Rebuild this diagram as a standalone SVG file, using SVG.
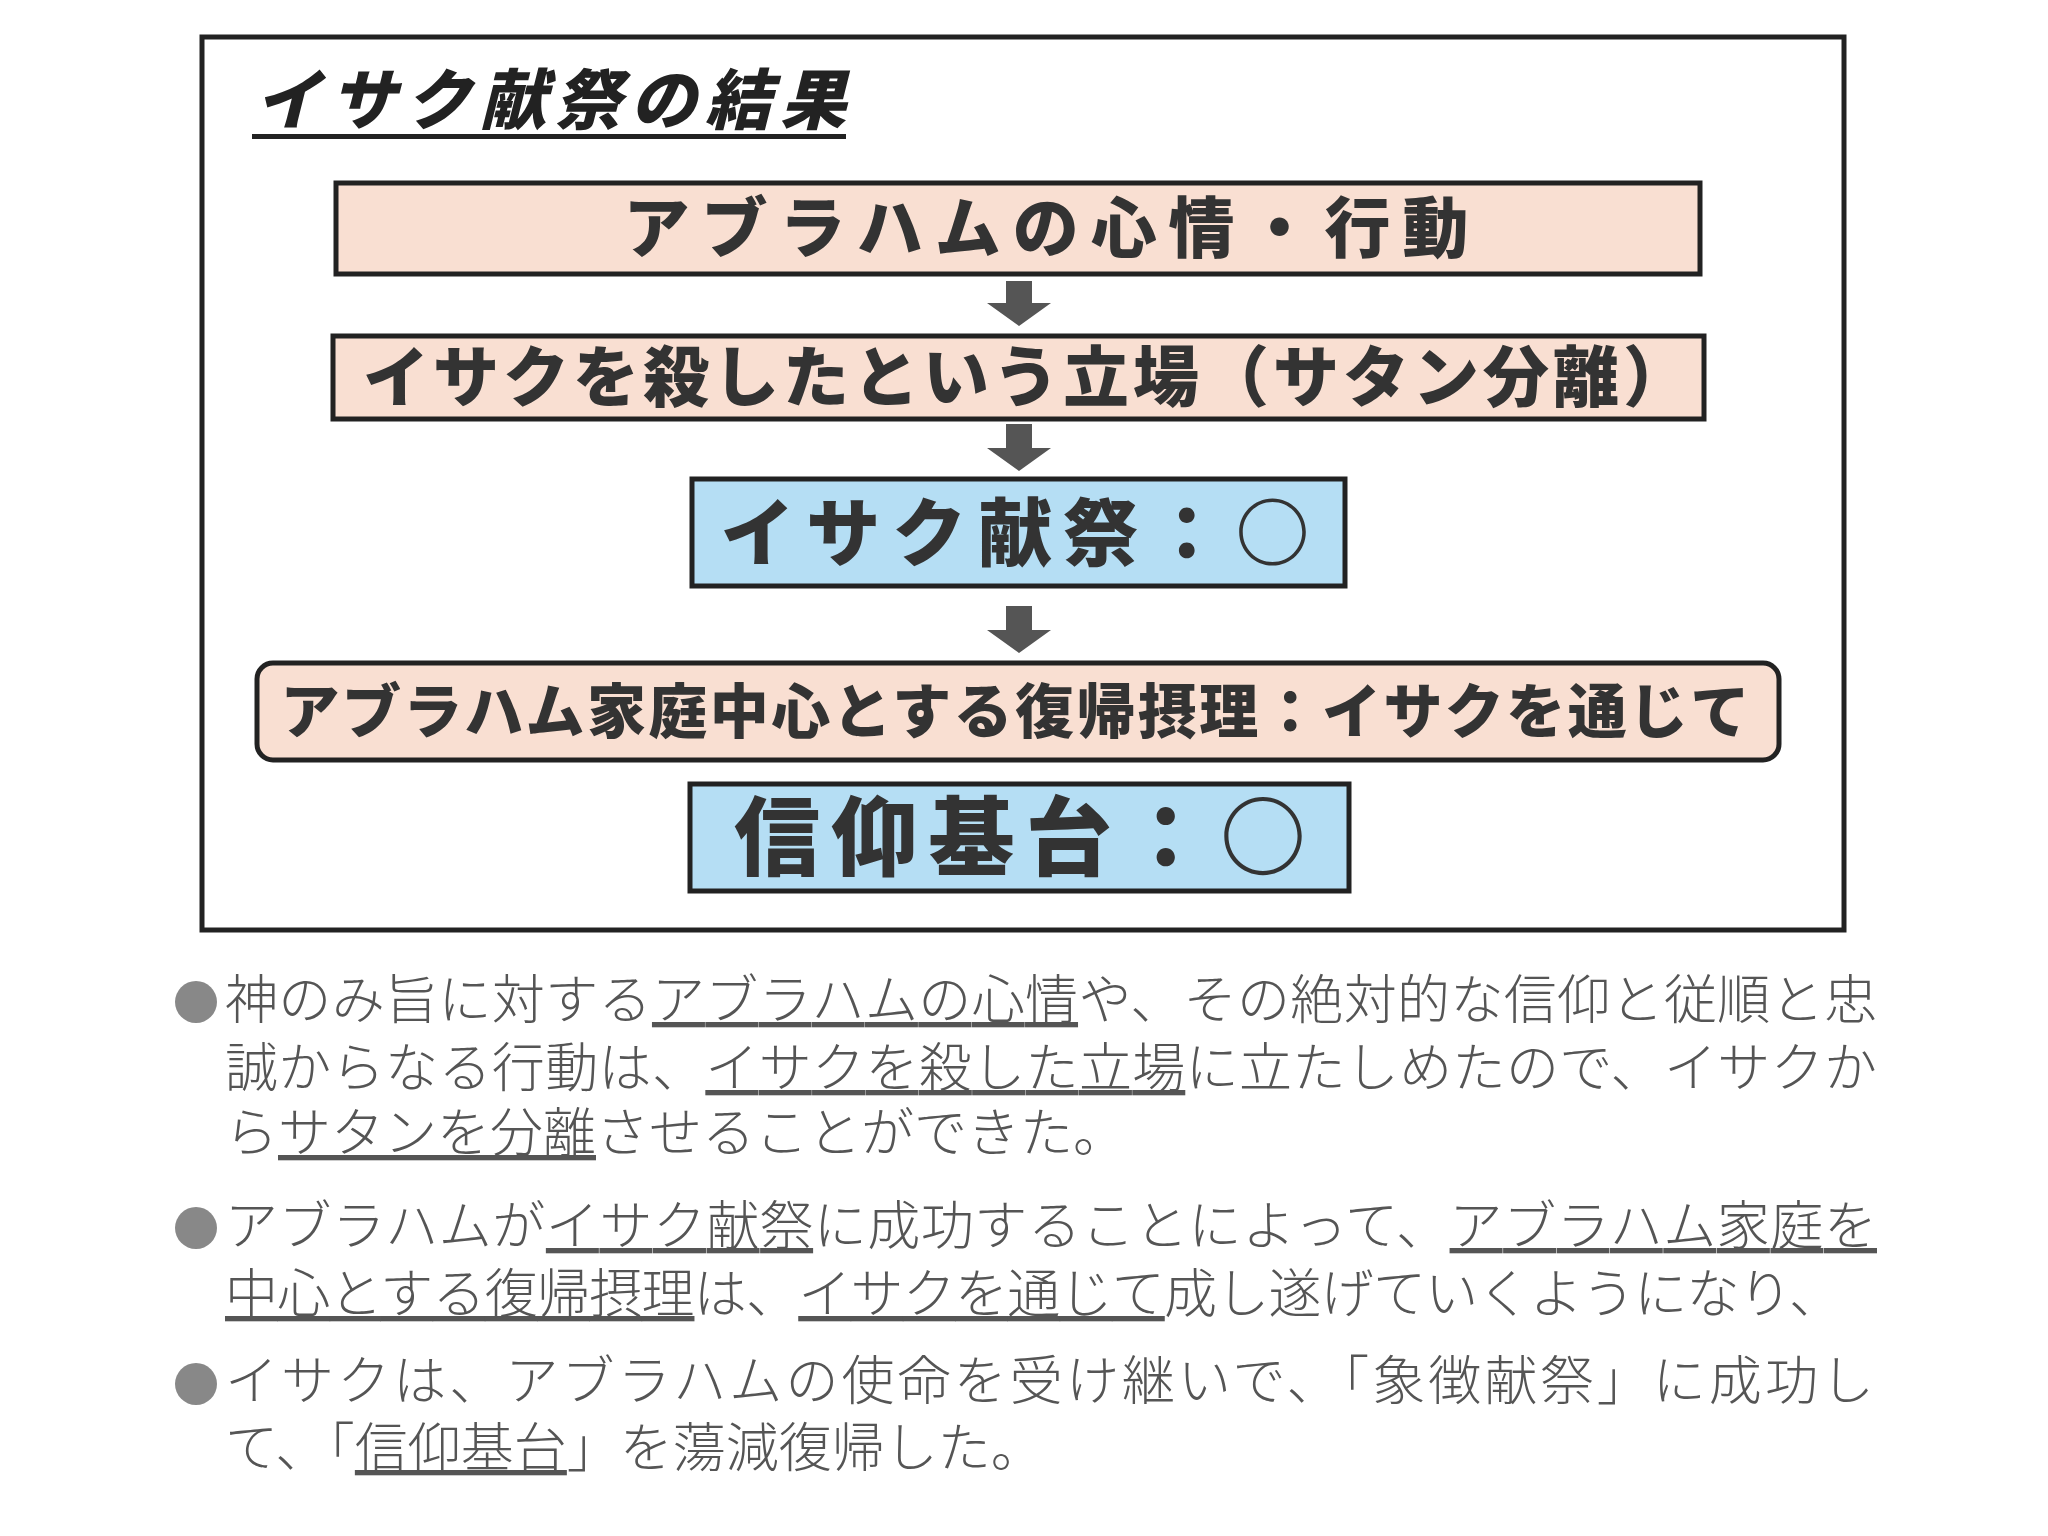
<svg xmlns="http://www.w3.org/2000/svg" width="2048" height="1536" viewBox="0 0 2048 1536">
<style>
.box{stroke:#222;stroke-width:5}
.pink{fill:#f9dfd2}
.blue{fill:#b5def4}
.bt{font-family:"Noto Sans CJK JP",sans-serif;font-weight:900;fill:#333;text-anchor:middle}
.p{font-family:"Noto Sans CJK JP",sans-serif;font-size:53px;fill:#555;font-weight:300}
.u{text-decoration:underline}
.arr{fill:#555}
</style>
<rect width="2048" height="1536" fill="#fff"/>
<rect x="202" y="37" width="1642" height="893" fill="#fff" stroke="#222" stroke-width="5"/>
<g id="title">
<text x="255" y="124" font-family="Noto Sans CJK JP,sans-serif" font-size="66" font-weight="900" font-style="italic" fill="#222" textLength="591" lengthAdjust="spacing">イサク献祭の結果</text>
<rect x="252" y="134" width="594" height="5" fill="#222"/>
</g>
<g id="n1"><rect class="box pink" x="336" y="183" width="1364" height="91"/><text class="bt" x="1046" y="252" font-size="66" textLength="845" lengthAdjust="spacing">アブラハムの心情・行動</text></g>
<g id="n2"><rect class="box pink" x="333" y="336" width="1371" height="83"/><text class="bt" x="1026" y="401" font-size="66" textLength="1326" lengthAdjust="spacing">イサクを殺したという立場（サタン分離）</text></g>
<g id="n3"><rect class="box blue" x="692" y="479" width="653" height="107"/><text class="bt" x="1015" y="560" font-size="74" textLength="589" lengthAdjust="spacing">イサク献祭：○</text></g>
<g id="n4"><rect class="box pink" x="257" y="663" width="1522" height="97" rx="16"/><text class="bt" x="1015" y="733" font-size="59" textLength="1469" lengthAdjust="spacing">アブラハム家庭中心とする復帰摂理：イサクを通じて</text></g>
<g id="n5"><rect class="box blue" x="690" y="784" width="659" height="107"/><text class="bt" x="1020" y="869" font-size="86" textLength="572" lengthAdjust="spacing">信仰基台：○</text></g>
<g id="connectors">
<path class="arr" d="M1006 281h26v22h19l-32 23l-32-23h19z"/>
<path class="arr" d="M1006 424h26v24h19l-32 23l-32-23h19z"/>
<path class="arr" d="M1006 606h26v24h19l-32 23l-32-23h19z"/>
</g>
<g id="notes">
<circle cx="196" cy="1002" r="21" fill="#888"/>
<circle cx="196" cy="1228" r="21" fill="#888"/>
<circle cx="196" cy="1384" r="21" fill="#888"/>
<text class="p" x="225" y="1019" textLength="1652" lengthAdjust="spacing">神のみ旨に対する<tspan class="u">アブラハムの心情</tspan>や、その絶対的な信仰と従順と忠</text>
<text class="p" x="225" y="1087" textLength="1652" lengthAdjust="spacing">誠からなる行動は、<tspan class="u">イサクを殺した立場</tspan>に立たしめたので、イサクか</text>
<text class="p" x="225" y="1152">ら<tspan class="u">サタンを分離</tspan>させることができた。</text>
<text class="p" x="225" y="1245" textLength="1652" lengthAdjust="spacing">アブラハムが<tspan class="u">イサク献祭</tspan>に成功することによって、<tspan class="u">アブラハム家庭を</tspan></text>
<text class="p" x="225" y="1313" textLength="1617" lengthAdjust="spacing"><tspan class="u">中心とする復帰摂理</tspan>は、<tspan class="u">イサクを通じて</tspan>成し遂げていくようになり、</text>
<text class="p" x="225" y="1400" textLength="1649" lengthAdjust="spacing">イサクは、アブラハムの使命を受け継いで、「象徴献祭」に成功し</text>
<text class="p" x="225" y="1467">て、「<tspan class="u">信仰基台</tspan>」を蕩減復帰した。</text>
</g>
</svg>
